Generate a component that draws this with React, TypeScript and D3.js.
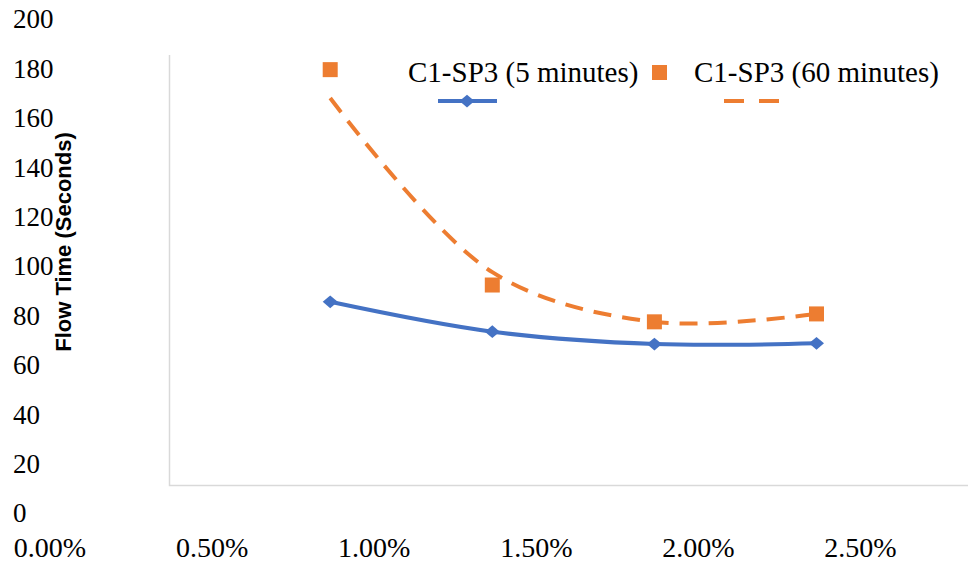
import { useRef, useEffect } from "react";
import * as d3 from "d3";

const rates = [0.01, 0.015, 0.02, 0.025];
const fiveMinutes = [85.5, 73.4, 68.4, 68.7];
const sixtyMinutes = [179.5, 92.3, 77.4, 80.6];
const sixtyTrend = [168, 97.5, 77.4, 80.6];
const xTicks = [0, 0.005, 0.01, 0.015, 0.02, 0.025];
const yTicks = [0, 20, 40, 60, 80, 100, 120, 140, 160, 180, 200];
const seriesNames = ["C1-SP3 (5 minutes)", "C1-SP3 (60 minutes)"];

const width = 968;
const height = 563;
const blue = "#4472C4";
const orange = "#ED7D31";
const serif = "'Liberation Serif', 'Times New Roman', serif";
const sans = "'Liberation Sans', Arial, sans-serif";

// diamond a bit wider than tall, like the excel marker
const diamond = {
  draw(ctx: d3.Path, size: number) {
    const w = Math.sqrt(size) * 0.75;
    const h = w * 0.85;
    ctx.moveTo(0, -h);
    ctx.lineTo(w, 0);
    ctx.lineTo(0, h);
    ctx.lineTo(-w, 0);
    ctx.closePath();
  },
};

const FlowChart = () => {
  const ref = useRef<SVGSVGElement>(null);

  useEffect(() => {
    if (!ref.current) return;
    const svg = d3.select(ref.current);
    svg.selectAll("*").remove();

    const x = d3.scaleLinear().domain([0, 0.025]).range([6, 816.5]);
    const y = d3.scaleLinear().domain([0, 200]).range([513, 19]);
    const labelShift = 44;

    // plot frame (light gray left + bottom)
    svg
      .append("path")
      .attr("d", "M169.5,55V485.5H968")
      .attr("fill", "none")
      .attr("stroke", "#d9d9d9")
      .attr("stroke-width", 1.5);

    // y tick labels
    svg
      .selectAll(".ytick")
      .data(yTicks)
      .enter()
      .append("text")
      .attr("class", "ytick")
      .attr("x", 13)
      .attr("y", (d) => y(d))
      .attr("dy", "0.35em")
      .style("font-family", serif)
      .style("font-size", "27px")
      .attr("fill", "#000")
      .text((d) => d);

    // x tick labels
    svg
      .selectAll(".xtick")
      .data(xTicks)
      .enter()
      .append("text")
      .attr("class", "xtick")
      .attr("x", (d) => x(d) + labelShift)
      .attr("y", 557)
      .attr("text-anchor", "middle")
      .style("font-family", serif)
      .style("font-size", "28px")
      .attr("fill", "#000")
      .text((d) => d3.format(".2%")(d));

    // y axis title
    svg
      .append("text")
      .attr("transform", "translate(71,242) rotate(-90)")
      .attr("text-anchor", "middle")
      .style("font-family", sans)
      .style("font-weight", "bold")
      .style("font-size", "22px")
      .attr("fill", "#000")
      .text("Flow Time (Seconds)");

    const line = d3
      .line<number>()
      .x((_, i) => x(rates[i]))
      .y((d) => y(d))
      .curve(d3.curveCatmullRom.alpha(0.5));

    // 60 minutes dashed trend
    svg
      .append("path")
      .attr("d", line(sixtyTrend))
      .attr("fill", "none")
      .attr("stroke", orange)
      .attr("stroke-width", 4)
      .attr("stroke-dasharray", "18,11");

    // 5 minutes line
    svg
      .append("path")
      .attr("d", line(fiveMinutes))
      .attr("fill", "none")
      .attr("stroke", blue)
      .attr("stroke-width", 4);

    svg
      .selectAll(".diamond")
      .data(fiveMinutes)
      .enter()
      .append("path")
      .attr("class", "diamond")
      .attr("transform", (d, i) => `translate(${x(rates[i])},${y(d)})`)
      .attr("d", d3.symbol(diamond, 100)())
      .attr("fill", blue);

    svg
      .selectAll(".square")
      .data(sixtyMinutes)
      .enter()
      .append("rect")
      .attr("class", "square")
      .attr("x", (_, i) => x(rates[i]) - 7.5)
      .attr("y", (d) => y(d) - 7.5)
      .attr("width", 15)
      .attr("height", 15)
      .attr("fill", orange);

    // legend
    svg
      .append("text")
      .attr("x", 408)
      .attr("y", 82)
      .style("font-family", serif)
      .style("font-size", "29px")
      .attr("fill", "#000")
      .text(seriesNames[0]);
    svg
      .append("line")
      .attr("x1", 438)
      .attr("x2", 497)
      .attr("y1", 101)
      .attr("y2", 101)
      .attr("stroke", blue)
      .attr("stroke-width", 4);
    svg
      .append("path")
      .attr("transform", "translate(467,101)")
      .attr("d", d3.symbol(diamond, 100)())
      .attr("fill", blue);

    svg
      .append("rect")
      .attr("x", 652)
      .attr("y", 65)
      .attr("width", 15)
      .attr("height", 15)
      .attr("fill", orange);
    svg
      .append("text")
      .attr("x", 694)
      .attr("y", 82)
      .style("font-family", serif)
      .style("font-size", "29px")
      .attr("fill", "#000")
      .text(seriesNames[1]);
    svg
      .append("line")
      .attr("x1", 724)
      .attr("x2", 779)
      .attr("y1", 101)
      .attr("y2", 101)
      .attr("stroke", orange)
      .attr("stroke-width", 4)
      .attr("stroke-dasharray", "20,15");
  }, []);

  return (
    <svg
      ref={ref}
      width={width}
      height={height}
      style={{ position: "absolute", left: 0, top: 0, background: "#fff" }}
    />
  );
};

export default function App() {
  return <FlowChart />;
}
